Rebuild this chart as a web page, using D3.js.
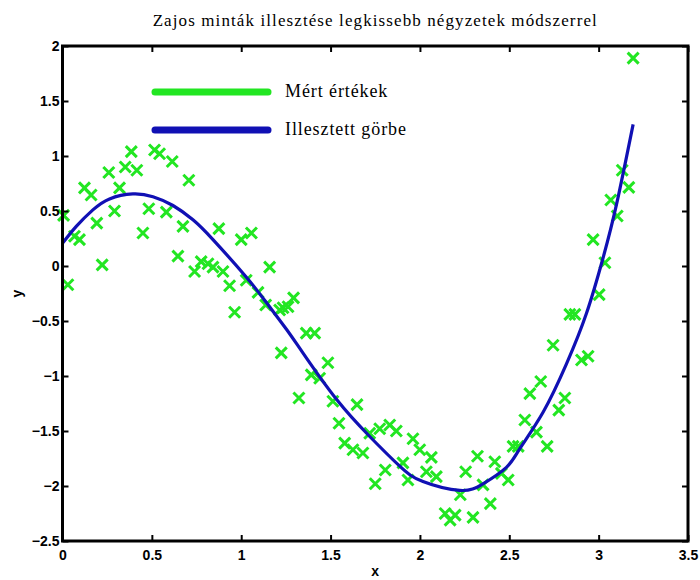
<!DOCTYPE html>
<html>
<head>
<meta charset="utf-8">
<script src="https://cdn.jsdelivr.net/npm/d3@7"></script>
<style>
body { margin: 0; background: #fff; }
</style>
</head>
<body>
<script>
var sampleX = [0.006, 0.03, 0.067, 0.095, 0.123, 0.16, 0.192, 0.222, 0.259, 0.291,
	0.319, 0.351, 0.385, 0.416, 0.45, 0.483, 0.515, 0.543, 0.581, 0.614,
	0.646, 0.674, 0.707, 0.739, 0.776, 0.814, 0.842, 0.875, 0.898, 0.935,
	0.963, 1.0, 1.028, 1.057, 1.094, 1.137, 1.159, 1.215, 1.234, 1.262,
	1.293, 1.224, 1.364, 1.411, 1.485, 1.392, 1.439, 1.323, 1.513, 1.648,
	1.547, 1.579, 1.625, 1.681, 1.719, 1.75, 1.775, 1.806, 1.831, 1.868,
	1.905, 1.933, 1.961, 1.999, 2.036, 2.064, 2.092, 2.141, 2.169, 2.197,
	2.226, 2.256, 2.297, 2.322, 2.353, 2.394, 2.419, 2.456, 2.494, 2.521,
	2.55, 2.587, 2.615, 2.652, 2.676, 2.712, 2.745, 2.777, 2.811, 2.839,
	2.867, 2.904, 2.941, 2.969, 3.003, 3.035, 3.068, 3.104, 3.132, 3.169, 3.193];
var sampleY = [0.46, -0.17, 0.27, 0.24, 0.71, 0.645, 0.39, 0.01, 0.85, 0.5,
	0.71, 0.9, 1.04, 0.87, 0.3, 0.52, 1.055, 1.02, 0.49, 0.95,
	0.09, 0.36, 0.78, -0.05, 0.04, 0.02, -0.01, 0.34, -0.05, -0.18,
	-0.42, 0.24, -0.13, 0.3, -0.24, -0.355, -0.01, -0.4, -0.38, -0.37,
	-0.29, -0.79, -0.61, -0.61, -0.88, -0.99, -1.02, -1.2, -1.23, -1.26,
	-1.43, -1.61, -1.67, -1.7, -1.52, -1.98, -1.48, -1.855, -1.445, -1.5,
	-1.79, -1.945, -1.57, -1.67, -1.87, -1.74, -1.915, -2.25, -2.31, -2.265,
	-2.08, -1.87, -2.285, -1.73, -1.99, -2.16, -1.78, -1.885, -1.945, -1.64,
	-1.64, -1.4, -1.16, -1.51, -1.05, -1.64, -0.72, -1.31, -1.2, -0.44,
	-0.44, -0.855, -0.82, 0.24, -0.26, 0.03, 0.6, 0.455, 0.87, 0.715, 1.89];

// fitted curve, points
var fitX = [0, 0.077, 0.17, 0.263, 0.394, 0.506, 0.618, 0.73, 0.842, 1.028,
	1.14, 1.253, 1.345, 1.532, 1.719, 1.887, 2.017, 2.223, 2.353, 2.484,
	2.559, 2.689, 2.82, 2.932, 3.025, 3.1, 3.193];
var fitY = [0.206, 0.36, 0.51, 0.61, 0.655, 0.63, 0.55, 0.42, 0.24, -0.1,
	-0.33, -0.575, -0.79, -1.21, -1.55, -1.82, -1.96, -2.04, -1.98, -1.83,
	-1.66, -1.33, -0.89, -0.43, 0.075, 0.56, 1.288];

var xTicks = [0, 0.5, 1, 1.5, 2, 2.5, 3, 3.5];
var yTicks = [-2.5, -2, -1.5, -1, -0.5, 0, 0.5, 1, 1.5, 2];
var legendNames = ["Mért értékek", "Illesztett görbe"];
var titleText = "Zajos minták illesztése legkissebb négyzetek módszerrel";

var green = "#22e622";
var blue = "#1010b4";

// NB: "top" is taken by window.top, so use plot* names
var W = 700, H = 580;
var plotL = 62.5, plotR = 688, plotT = 46, plotB = 541;

var svg = d3.select("body").append("svg")
	.attr("width", W)
	.attr("height", H);

var x = d3.scaleLinear().domain([0, 3.5]).range([plotL, plotR]);
var y = d3.scaleLinear().domain([-2.5, 2]).range([plotB, plotT]);

var serif = "'Liberation Serif', 'Times New Roman', serif";
var sans = "'Liberation Sans', Arial, sans-serif";

// title
svg.append("text")
	.attr("x", (plotL + plotR) / 2)
	.attr("y", 26)
	.attr("text-anchor", "middle")
	.style("font-family", serif)
	.style("font-size", "17px")
	.style("letter-spacing", "1.1px")
	.text(titleText);

// data crosses
var pts = sampleX.map(function(d, i){ return [d, sampleY[i]]; });
var r = 5.5;
var crosses = svg.append("g").attr("class", "crosses");
crosses.selectAll("path")
	.data(pts)
	.enter().append("path")
	.attr("d", function(d){
		var cx = x(d[0]), cy = y(d[1]);
		return "M" + (cx - r) + "," + (cy - r) + "L" + (cx + r) + "," + (cy + r) +
			"M" + (cx - r) + "," + (cy + r) + "L" + (cx + r) + "," + (cy - r);
	})
	.attr("stroke", green)
	.attr("stroke-width", 3)
	.attr("fill", "none");

// fitted line
var fit = fitX.map(function(d, i){ return [d, fitY[i]]; });
var line = d3.line()
	.x(function(d){ return x(d[0]); })
	.y(function(d){ return y(d[1]); })
	.curve(d3.curveNatural);
svg.append("path")
	.datum(fit)
	.attr("d", line)
	.attr("fill", "none")
	.attr("stroke", blue)
	.attr("stroke-width", 3.2);

// axes, ticks point inwards on all four sides
var tickFont = function(g){
	g.selectAll("text")
		.style("font-family", sans)
		.style("font-size", "14px")
		.style("font-weight", "bold")
		.attr("fill", "#000");
	g.selectAll("line").attr("stroke", "#000").attr("stroke-width", 2);
	g.select(".domain").remove();
};

svg.append("g")
	.attr("transform", "translate(0," + plotB + ")")
	.call(d3.axisBottom(x).tickValues(xTicks).tickSize(-6).tickPadding(9).tickFormat(d3.format("")))
	.call(tickFont);
svg.append("g")
	.attr("transform", "translate(0," + plotT + ")")
	.call(d3.axisTop(x).tickValues(xTicks).tickSize(-6).tickFormat(""))
	.call(tickFont);
svg.append("g")
	.attr("transform", "translate(" + plotL + ",0)")
	.call(d3.axisLeft(y).tickValues(yTicks).tickSize(-6).tickPadding(3).tickFormat(d3.format("")))
	.call(tickFont);
svg.append("g")
	.attr("transform", "translate(" + plotR + ",0)")
	.call(d3.axisRight(y).tickValues(yTicks).tickSize(-6).tickFormat(""))
	.call(tickFont);

// frame
svg.append("rect")
	.attr("x", plotL)
	.attr("y", plotT)
	.attr("width", plotR - plotL)
	.attr("height", plotB - plotT)
	.attr("fill", "none")
	.attr("stroke", "#000")
	.attr("stroke-width", 3);

// axis labels
svg.append("text")
	.attr("x", (plotL + plotR) / 2)
	.attr("y", 576)
	.attr("text-anchor", "middle")
	.style("font-family", sans)
	.style("font-size", "14px")
	.style("font-weight", "bold")
	.text("x");
svg.append("text")
	.attr("transform", "translate(22," + ((plotT + plotB) / 2) + ") rotate(-90)")
	.attr("text-anchor", "middle")
	.style("font-family", sans)
	.style("font-size", "14px")
	.style("font-weight", "bold")
	.text("y");

// legend
var legColors = [green, blue];
var leg = svg.append("g");
legendNames.forEach(function(name, i){
	var ly = 92 + i * 38;
	leg.append("line")
		.attr("x1", 155).attr("x2", 268)
		.attr("y1", ly).attr("y2", ly)
		.attr("stroke", legColors[i])
		.attr("stroke-width", 7)
		.attr("stroke-linecap", "round");
	leg.append("text")
		.attr("x", 285)
		.attr("y", ly + 5)
		.style("font-family", serif)
		.style("font-size", "18px")
		.style("letter-spacing", "0.9px")
		.text(name);
});
</script>
</body>
</html>
